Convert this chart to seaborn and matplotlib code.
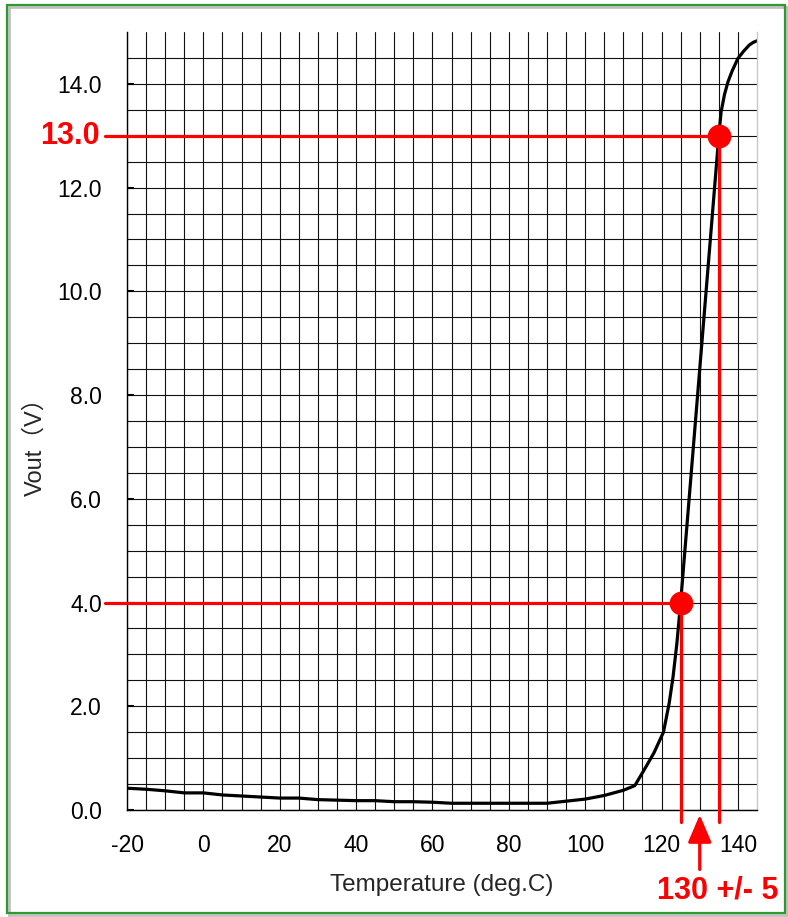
import numpy as np
import pandas as pd
import matplotlib
matplotlib.use('Agg')
from matplotlib import pyplot as plt
from matplotlib.patches import Rectangle
from matplotlib.ticker import FixedLocator
import seaborn as sns

# Dados da curva Vout x temperatura
temperatura = [-20, -15, -10, -5, 0, 5, 10, 15, 20, 25, 30, 35, 40, 45, 50, 55, 60,
               65, 70, 75, 80, 85, 90, 95, 100, 105, 110, 113, 115.5, 118, 120.5,
               122, 123, 124, 125, 126, 127, 128, 129, 130, 131, 132, 133, 134, 135,
               135.6, 136.5, 137.4, 138.5, 140, 141.5, 143, 144, 145]
vout = [0.42, 0.40, 0.37, 0.33, 0.33, 0.29, 0.27, 0.25, 0.23, 0.23, 0.20, 0.19, 0.18,
        0.18, 0.16, 0.16, 0.15, 0.13, 0.13, 0.13, 0.13, 0.13, 0.13, 0.17, 0.21, 0.28,
        0.38, 0.47, 0.78, 1.10, 1.50, 2.06, 2.56, 3.20, 4.00, 4.90, 5.80, 6.70, 7.60,
        8.50, 9.40, 10.30, 11.20, 12.10, 13.00, 13.46, 13.80, 14.04, 14.25, 14.49,
        14.63, 14.75, 14.80, 14.83]

# Pontos marcados
pontos_t = [125, 135]
pontos_v = [4.0, 13.0]

xticks = [-20, 0, 20, 40, 60, 80, 100, 120, 140]
yticks = [0, 2, 4, 6, 8, 10, 12, 14]

df = pd.DataFrame({'Temperatura': temperatura, 'Vout': vout})
pts = pd.DataFrame({'t': pontos_t, 'v': pontos_v})

sns.set_theme(style='white')
plt.rcParams['font.family'] = ['Liberation Sans', 'Noto Sans CJK JP', 'DejaVu Sans']

fig = plt.figure(figsize=(7.88, 9.17), dpi=100)
ax = fig.add_axes([127 / 788, 1 - 810 / 917, 630 / 788, 778 / 917])

ax.set_xlim(-20, 145)
ax.set_ylim(0, 15)

# Grade
ax.xaxis.set_major_locator(FixedLocator(xticks))
ax.yaxis.set_major_locator(FixedLocator(yticks))
ax.xaxis.set_minor_locator(FixedLocator(np.arange(-20, 141, 5)))
ax.yaxis.set_minor_locator(FixedLocator(np.arange(0, 14.6, 0.5)))
ax.grid(which='both', color='#111111', linewidth=0.8)
ax.set_axisbelow(True)
ax.set_xticklabels([str(t) for t in xticks])
ax.set_yticklabels(['%.1f' % v for v in yticks])
ax.tick_params(axis='both', which='major', labelsize=16.5, colors='black')
ax.tick_params(axis='y', which='major', direction='in', length=5, width=1.5, pad=18, left=True)
ax.tick_params(axis='x', which='major', length=0, pad=17)
ax.tick_params(which='minor', length=0)

ax.spines['top'].set_visible(False)
ax.spines['right'].set_color('#c8c8c8')
ax.spines['left'].set_color('black')
ax.spines['bottom'].set_color('black')
for s in ['left', 'bottom', 'right']:
    ax.spines[s].set_linewidth(1.0)

# Curva
sns.lineplot(data=df, x='Temperatura', y='Vout', color='black', linewidth=2.3, ax=ax)

# Linhas de marcação vermelhas
vermelho = '#ff0000'
for t, v in zip(pontos_t, pontos_v):
    ax.plot([-25.8, t], [v, v], color=vermelho, linewidth=2.3, clip_on=False, zorder=4)
    ax.plot([t, t], [v, -0.23], color=vermelho, linewidth=2.3, clip_on=False, zorder=4)
sns.scatterplot(data=pts, x='t', y='v', color=vermelho, s=250, edgecolor=vermelho,
                zorder=5, clip_on=False, ax=ax)

ax.annotate('', xy=(130, -0.04), xytext=(130, -1.2), xycoords='data',
            arrowprops=dict(arrowstyle='-|>,head_length=1.4,head_width=0.6',
                            color=vermelho, lw=2.3), annotation_clip=False)
ax.text(134.6, -1.55, '130 +/- 5', color=vermelho, fontsize=22, fontweight='bold',
        ha='center', va='center', clip_on=False)
ax.text(-27.1, 13.0, '13.0', color=vermelho, fontsize=22, fontweight='bold',
        ha='right', va='center', clip_on=False)

ax.set_xlabel('Temperature (deg.C)', fontsize=17.5)
ax.set_ylabel('Vout（V）', fontsize=17)
ax.xaxis.set_label_coords(0.5, (810 - 885) / 778)
ax.xaxis.label.set_va('center')
ax.yaxis.set_label_coords((35 - 127) / 630, (810 - 441) / 778)
ax.yaxis.label.set_va('center')
ax.yaxis.label.set_ha('center')

# Moldura verde
fig.patches.append(Rectangle((9 / 788, 1 - 915 / 917), 778 / 788, 908 / 917,
                             transform=fig.transFigure, fill=False,
                             edgecolor='#c0c0c0', linewidth=2))
fig.patches.append(Rectangle((7 / 788, 1 - 913 / 917), 778 / 788, 908 / 917,
                             transform=fig.transFigure, fill=False,
                             edgecolor='#2e9a2e', linewidth=1.6))

plt.savefig('out.png', dpi=100)
plt.close()
